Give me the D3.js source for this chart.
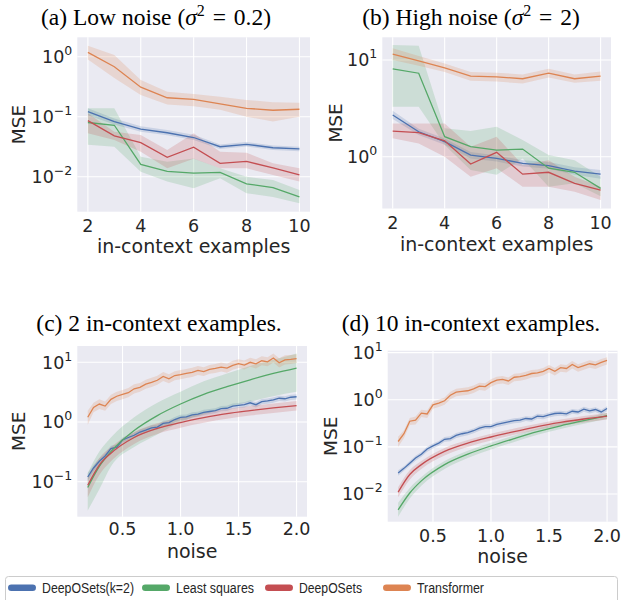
<!DOCTYPE html>
<html>
<head>
<meta charset="utf-8">
<script src="https://cdn.jsdelivr.net/npm/d3@7"></script>
<style>
html,body{margin:0;padding:0;background:#fff;}
svg{display:block;}
</style>
</head>
<body>
<svg id="chart" width="623" height="600"></svg>
<script>
// ---------------- DATA ----------------
const examples = [2, 3, 4, 5, 6, 7, 8, 9, 10];
const exampleTicks = [2, 4, 6, 8, 10];
const noiseFine = [0.2,0.25,0.3,0.35,0.4,0.45,0.5,0.55,0.6,0.65,0.7,0.75,0.8,0.85,0.9,0.95,1.0,1.05,1.1,1.15,1.2,1.25,1.3,1.35,1.4,1.45,1.5,1.55,1.6,1.65,1.7,1.75,1.8,1.85,1.9,1.95,2.0];
const noiseCoarse = [0.2,0.3,0.4,0.6,0.8,1.0,1.2,1.4,1.6,1.8,2.0];
const noiseTicks = [0.5, 1.0, 1.5, 2.0];
const seriesNames = ["DeepOSets(k=2)", "Least squares", "DeepOSets", "Transformer"];

// (a) Low noise
const lowK2 = [0.121,0.083,0.062,0.054,0.045,0.0316,0.0347,0.0304,0.029];
const lowK2Lo = [0.106,0.074,0.056,0.049,0.041,0.029,0.032,0.028,0.0265];
const lowK2Hi = [0.138,0.093,0.069,0.060,0.050,0.0345,0.038,0.033,0.0315];
const lowLS = [0.080,0.072,0.016,0.0123,0.0115,0.0118,0.0076,0.0066,0.0046];
const lowLSLo = [0.034,0.0316,0.0121,0.0083,0.0064,0.0094,0.0053,0.0046,0.0036];
const lowLSHi = [0.138,0.138,0.0215,0.0178,0.0202,0.0138,0.010,0.0088,0.006];
const lowDS = [0.086,0.048,0.037,0.021,0.031,0.0167,0.018,0.014,0.0107];
const lowDSLo = [0.053,0.041,0.026,0.0138,0.020,0.0138,0.0138,0.0107,0.0083];
const lowDSHi = [0.114,0.056,0.0496,0.028,0.053,0.026,0.025,0.0167,0.0138];
const lowTF = [1.18,0.68,0.31,0.207,0.195,0.163,0.138,0.128,0.133];
const lowTFLo = [0.90,0.44,0.23,0.16,0.15,0.13,0.10,0.083,0.10];
const lowTFHi = [1.52,1.07,0.41,0.26,0.24,0.215,0.19,0.174,0.17];

// (b) High noise
const highK2 = [2.7,1.81,1.43,1.04,0.96,0.855,0.81,0.71,0.66];
const highK2Lo = [2.45,1.68,1.33,0.96,0.89,0.79,0.75,0.65,0.59];
const highK2Hi = [2.98,1.95,1.54,1.12,1.03,0.92,0.88,0.78,0.73];
const highLS = [8.1,7.3,1.61,1.27,1.17,1.2,0.76,0.69,0.47];
const highLSLo = [3.29,3.29,1.32,0.73,0.65,0.96,0.49,0.53,0.39];
const highLSHi = [14.3,14.0,1.97,1.84,2.04,1.49,1.04,0.92,0.62];
const highDS = [1.84,1.77,1.46,0.84,1.11,0.66,0.69,0.53,0.45];
const highDSLo = [1.55,1.37,1.0,0.62,0.76,0.49,0.49,0.435,0.357];
const highDSHi = [2.2,2.2,2.2,1.27,1.61,0.82,0.92,0.62,0.49];
const highTF = [11.5,9.8,8.3,6.8,6.7,6.4,7.3,6.4,6.8];
const highTFLo = [10.0,8.7,7.5,6.1,6.0,5.7,6.6,5.8,6.1];
const highTFHi = [13.2,11.0,9.2,7.5,7.4,7.1,8.1,7.1,7.6];

// (c) 2 in-context examples
const c2K2 = [0.12,0.17,0.22,0.27,0.36,0.38,0.5,0.55,0.6,0.68,0.73,0.8,0.82,0.95,0.98,1.1,1.2,1.22,1.32,1.35,1.45,1.5,1.55,1.68,1.7,1.85,1.9,1.95,2.1,1.95,2.2,2.25,2.35,2.5,2.45,2.6,2.65];
const c2K2Lo = [0.105,0.15,0.195,0.24,0.325,0.34,0.45,0.5,0.54,0.61,0.66,0.72,0.74,0.86,0.88,0.99,1.08,1.1,1.19,1.22,1.3,1.35,1.4,1.51,1.53,1.66,1.71,1.75,1.89,1.75,1.98,2.02,2.11,2.25,2.2,2.34,2.38];
const c2K2Hi = [0.14,0.19,0.245,0.3,0.4,0.42,0.55,0.6,0.66,0.75,0.8,0.88,0.9,1.05,1.08,1.21,1.32,1.34,1.45,1.49,1.6,1.65,1.7,1.85,1.87,2.04,2.09,2.15,2.31,2.15,2.42,2.48,2.59,2.75,2.7,2.86,2.92];
const c2LS = [0.08,0.18,0.32,0.72,1.28,2.0,2.9,3.9,5.1,6.5,8.0];
const c2LSLo = [0.033,0.075,0.18,0.38,0.62,1.0,1.35,1.75,2.2,2.7,3.2];
const c2LSHi = [0.14,0.32,0.55,1.2,2.1,3.2,4.8,6.5,8.7,11,14];
const c2DS = [0.087,0.19,0.3,0.55,0.78,0.98,1.18,1.38,1.55,1.72,1.88];
const c2DSLo = [0.055,0.13,0.22,0.43,0.63,0.8,0.97,1.13,1.28,1.42,1.56];
const c2DSHi = [0.12,0.25,0.38,0.68,0.95,1.18,1.42,1.65,1.86,2.05,2.25];
const c2TF = [1.2,1.75,2.0,1.85,2.4,2.7,2.9,3.1,3.6,3.8,4.3,4.6,5.0,5.8,5.3,6.0,6.2,6.5,6.8,7.3,7.0,7.6,7.9,8.3,8.0,8.9,9.5,9.0,10.0,9.4,10.6,10.2,11.8,9.8,11.0,11.2,11.5];
const c2TFLo = [0.9,1.45,1.65,1.55,2.0,2.25,2.4,2.6,3.0,3.2,3.6,3.85,4.2,4.85,4.45,5.0,5.2,5.45,5.7,6.1,5.9,6.4,6.6,7.0,6.7,7.5,8.0,7.6,8.4,7.9,8.9,8.6,9.9,8.2,9.2,9.4,9.7];
const c2TFHi = [1.55,2.1,2.4,2.2,2.85,3.2,3.45,3.7,4.3,4.5,5.1,5.5,5.95,6.9,6.3,7.1,7.4,7.7,8.1,8.7,8.3,9.0,9.4,9.9,9.5,10.6,11.3,10.7,11.9,11.2,12.6,12.1,14.0,11.7,13.1,13.3,13.7];

// (d) 10 in-context examples
const c10K2 = [0.028,0.035,0.045,0.058,0.07,0.09,0.105,0.12,0.145,0.15,0.175,0.19,0.2,0.22,0.25,0.27,0.27,0.3,0.32,0.34,0.36,0.37,0.4,0.39,0.45,0.44,0.48,0.51,0.52,0.5,0.57,0.55,0.63,0.58,0.62,0.55,0.65];
const c10K2Lo = [0.0245,0.031,0.04,0.051,0.062,0.079,0.092,0.106,0.128,0.132,0.154,0.167,0.176,0.194,0.22,0.238,0.238,0.264,0.282,0.299,0.317,0.326,0.352,0.343,0.396,0.387,0.422,0.449,0.458,0.44,0.502,0.484,0.554,0.51,0.546,0.484,0.572];
const c10K2Hi = [0.032,0.039,0.05,0.065,0.078,0.101,0.118,0.134,0.162,0.168,0.196,0.213,0.224,0.246,0.28,0.302,0.302,0.336,0.358,0.381,0.403,0.414,0.448,0.437,0.504,0.493,0.538,0.571,0.582,0.56,0.638,0.616,0.706,0.65,0.694,0.616,0.728];
const c10LS = [0.0046,0.0105,0.019,0.042,0.07,0.105,0.15,0.21,0.28,0.36,0.46];
const c10LSLo = [0.0033,0.008,0.015,0.034,0.058,0.088,0.127,0.18,0.24,0.31,0.39];
const c10LSHi = [0.0065,0.0135,0.023,0.05,0.083,0.123,0.175,0.245,0.325,0.41,0.53];
const c10DS = [0.011,0.026,0.042,0.08,0.12,0.162,0.21,0.27,0.33,0.39,0.45];
const c10DSLo = [0.0085,0.02,0.034,0.066,0.1,0.137,0.18,0.23,0.28,0.33,0.38];
const c10DSHi = [0.014,0.032,0.05,0.095,0.14,0.19,0.245,0.31,0.38,0.45,0.52];
const c10TF = [0.13,0.19,0.35,0.37,0.52,0.5,0.78,0.85,0.95,1.25,1.45,1.5,1.55,1.7,1.95,1.9,2.3,2.6,2.7,2.5,3.0,3.1,3.3,3.6,3.7,4.0,4.6,4.0,4.8,4.6,5.6,4.8,5.3,5.8,5.5,6.2,6.8];
const c10TFLo = [0.1,0.155,0.29,0.3,0.43,0.41,0.64,0.7,0.78,1.03,1.19,1.23,1.27,1.39,1.6,1.56,1.89,2.13,2.21,2.05,2.46,2.54,2.7,2.95,3.03,3.28,3.77,3.28,3.94,3.77,4.6,3.94,4.35,4.76,4.5,5.08,5.6];
const c10TFHi = [0.165,0.225,0.41,0.44,0.61,0.59,0.92,1.0,1.12,1.47,1.71,1.77,1.83,2.0,2.3,2.24,2.71,3.07,3.19,2.95,3.54,3.66,3.9,4.25,4.37,4.72,5.43,4.72,5.66,5.43,6.6,5.66,6.25,6.84,6.5,7.3,8.0];

// ---------------- STYLE ----------------
const colors = ["#4C72B0", "#55A868", "#C44E52", "#DD8452"];
const tickFont = "'DejaVu Sans', sans-serif";
const titleFont = "'Liberation Serif', 'Times New Roman', serif";

const svg = d3.select("#chart");

function mk(xs, m, lo, hi, i) { return {xs, m, lo, hi, color: colors[i]}; }

const EQ = "\u2004=\u2004";
const panels = [
  { titleParts: [["(a) Low noise (",""],["σ","it"],["2","sup"],[EQ + "0.2)",""]], tx: 156, ty: 25,
    xDomain: [1.6, 10.4], xRange: [77.3, 310], yLog: [-2.583, 0.323], yRange: [211.7, 37.3],
    xTicks: exampleTicks, xFmt: d => String(d), yTicks: [-2, -1, 0],
    xLabel: "in-context examples", xLabelY: 253, tickY: 231.5, yLabelX: 25,
    series: [mk(examples, lowK2, lowK2Lo, lowK2Hi, 0), mk(examples, lowLS, lowLSLo, lowLSHi, 1),
             mk(examples, lowDS, lowDSLo, lowDSHi, 2), mk(examples, lowTF, lowTFLo, lowTFHi, 3)], smooth: false },
  { titleParts: [["(b) High noise (",""],["σ","it"],["2","sup"],[EQ + "2)",""]], tx: 471, ty: 25,
    xDomain: [1.6, 10.4], xRange: [382.3, 611], yLog: [-0.5357, 1.2347], yRange: [208.5, 37.3],
    xTicks: exampleTicks, xFmt: d => String(d), yTicks: [0, 1],
    xLabel: "in-context examples", xLabelY: 251, tickY: 229, yLabelX: 341.5,
    series: [mk(examples, highK2, highK2Lo, highK2Hi, 0), mk(examples, highLS, highLSLo, highLSHi, 1),
             mk(examples, highDS, highDSLo, highDSHi, 2), mk(examples, highTF, highTFLo, highTFHi, 3)], smooth: false },
  { titleParts: [["(c) 2 in-context examples.",""]], tx: 159, ty: 330.5,
    xDomain: [0.11, 2.09], xRange: [77.3, 307], yLog: [-1.586, 1.273], yRange: [516.7, 346],
    xTicks: noiseTicks, xFmt: d => d.toFixed(1), yTicks: [-1, 0, 1],
    xLabel: "noise", xLabelY: 558, tickY: 535, yLabelX: 25,
    series: [mk(noiseFine, c2K2, c2K2Lo, c2K2Hi, 0), mk(noiseCoarse, c2LS, c2LSLo, c2LSHi, 1),
             mk(noiseCoarse, c2DS, c2DSLo, c2DSHi, 2), mk(noiseFine, c2TF, c2TFLo, c2TFHi, 3)], smooth: true },
  { titleParts: [["(d) 10 in-context examples.",""]], tx: 471, ty: 330.5,
    xDomain: [0.11, 2.09], xRange: [387.7, 617.5], yLog: [-2.587, 1.04], yRange: [521.7, 350.7],
    xTicks: noiseTicks, xFmt: d => d.toFixed(1), yTicks: [-2, -1, 0, 1],
    xLabel: "noise", xLabelY: 563, tickY: 541.5, yLabelX: 336.5,
    series: [mk(noiseFine, c10K2, c10K2Lo, c10K2Hi, 0), mk(noiseCoarse, c10LS, c10LSLo, c10LSHi, 1),
             mk(noiseCoarse, c10DS, c10DSLo, c10DSHi, 2), mk(noiseFine, c10TF, c10TFLo, c10TFHi, 3)], smooth: true }
];

panels.forEach((p, pi) => {
  const x = d3.scaleLinear().domain(p.xDomain).range(p.xRange);
  const y = d3.scaleLog().domain([Math.pow(10, p.yLog[0]), Math.pow(10, p.yLog[1])]).range(p.yRange);
  const g = svg.append("g");
  const [x0, x1] = p.xRange, [yb, yt] = p.yRange;
  const clipId = "clip" + pi;
  svg.append("clipPath").attr("id", clipId).append("rect")
    .attr("x", x0).attr("y", yt).attr("width", x1 - x0).attr("height", yb - yt);

  g.append("rect").attr("x", x0).attr("y", yt).attr("width", x1 - x0).attr("height", yb - yt)
    .attr("fill", "#EAEAF2");

  // grid
  g.selectAll(".vg").data(p.xTicks).enter().append("line")
    .attr("x1", d => x(d)).attr("x2", d => x(d)).attr("y1", yt).attr("y2", yb)
    .attr("stroke", "#fff").attr("stroke-width", 1.1);
  g.selectAll(".hg").data(p.yTicks).enter().append("line")
    .attr("y1", d => y(Math.pow(10, d))).attr("y2", d => y(Math.pow(10, d))).attr("x1", x0).attr("x2", x1)
    .attr("stroke", "#fff").attr("stroke-width", 1.1);

  const curve = p.smooth ? d3.curveMonotoneX : d3.curveLinear;
  const plot = g.append("g").attr("clip-path", `url(#${clipId})`);
  p.series.forEach(s => {
    const idx = d3.range(s.xs.length);
    const area = d3.area().x(i => x(s.xs[i])).y0(i => y(s.lo[i])).y1(i => y(s.hi[i])).curve(s.xs.length > 20 ? d3.curveLinear : curve);
    plot.append("path").attr("d", area(idx)).attr("fill", s.color).attr("fill-opacity", 0.2).attr("stroke", "none");
  });
  p.series.forEach(s => {
    const idx = d3.range(s.xs.length);
    const line = d3.line().x(i => x(s.xs[i])).y(i => y(s.m[i])).curve(s.xs.length > 20 ? d3.curveLinear : curve);
    plot.append("path").attr("d", line(idx)).attr("fill", "none").attr("stroke", s.color).attr("stroke-width", 1.3);
  });

  // x tick labels
  g.selectAll(".xt").data(p.xTicks).enter().append("text")
    .attr("x", d => x(d)).attr("y", p.tickY).attr("text-anchor", "middle")
    .attr("font-family", tickFont).attr("font-size", 17.5).attr("fill", "#262626")
    .text(p.xFmt);

  // y tick labels 10^k
  p.yTicks.forEach(k => {
    const t = g.append("text").attr("x", x0 - 5).attr("y", y(Math.pow(10, k)) + 6.4)
      .attr("text-anchor", "end").attr("font-family", tickFont).attr("fill", "#262626");
    t.append("tspan").attr("font-size", 17.5).text("10");
    t.append("tspan").attr("font-size", 12.5).attr("dy", -8).text(k < 0 ? "\u2212" + (-k) : String(k));
  });

  // axis labels
  g.append("text").attr("x", (x0 + x1) / 2).attr("y", p.xLabelY).attr("text-anchor", "middle")
    .attr("font-family", tickFont).attr("font-size", 19).attr("fill", "#262626").text(p.xLabel);
  g.append("text").attr("transform", `translate(${p.yLabelX},${(yt + yb) / 2}) rotate(-90)`)
    .attr("text-anchor", "middle").attr("font-family", tickFont).attr("font-size", 18.5)
    .attr("fill", "#262626").text("MSE");

  // title
  const tt = svg.append("text").attr("x", p.tx).attr("y", p.ty).attr("text-anchor", "middle")
    .attr("font-family", titleFont).attr("font-size", 23.5).attr("fill", "#000");
  let lifted = false;
  p.titleParts.forEach(([txt, kind]) => {
    const ts = tt.append("tspan").text(txt);
    if (kind === "it") ts.attr("font-style", "italic");
    if (kind === "sup") { ts.attr("font-size", 16).attr("dy", -9); lifted = true; }
    else if (lifted) { ts.attr("dy", 9); lifted = false; }
  });
});

// ---------------- LEGEND ----------------
const leg = svg.append("g");
leg.append("rect").attr("x", 5.5).attr("y", 576.5).attr("width", 612).attr("height", 30)
  .attr("rx", 3).attr("fill", "#fff").attr("stroke", "#cccccc").attr("stroke-width", 1);
const legX = [8, 142, 265, 383];
const legW = [92, 78, 63, 67];
seriesNames.forEach((name, i) => {
  leg.append("line").attr("x1", legX[i] + 3.3).attr("x2", legX[i] + 24.7).attr("y1", 587.7).attr("y2", 587.7)
    .attr("stroke", colors[i]).attr("stroke-width", 6.5).attr("stroke-linecap", "round");
  leg.append("text").attr("x", legX[i] + 34).attr("y", 593).attr("font-family", "'Liberation Sans', Arial, sans-serif")
    .attr("font-size", 14).attr("textLength", legW[i]).attr("lengthAdjust", "spacingAndGlyphs")
    .attr("fill", "#262626").text(name);
});
</script>
</body>
</html>
